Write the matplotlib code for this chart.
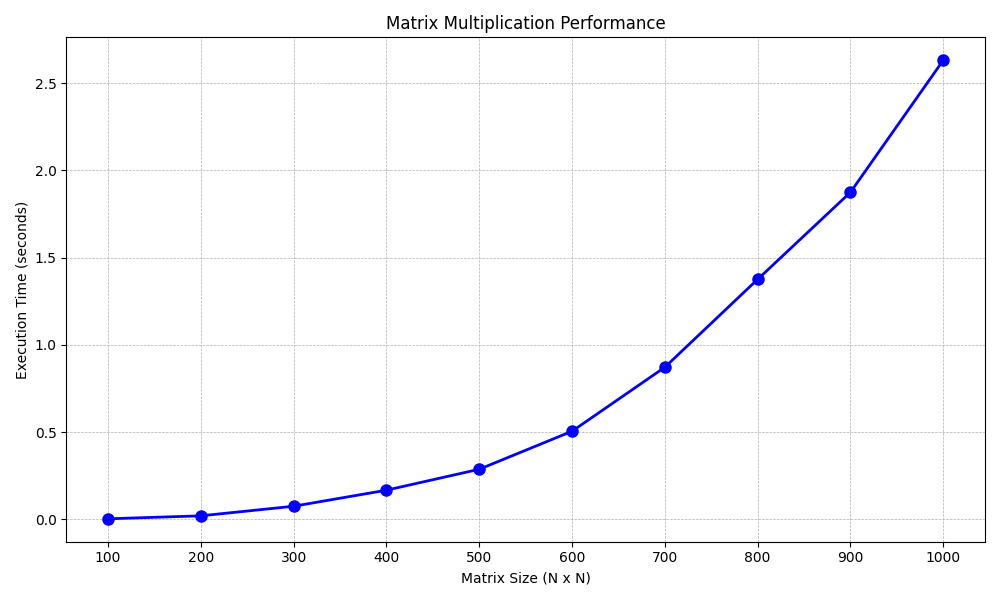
import matplotlib
matplotlib.use("Agg")
import matplotlib.pyplot as plt

# matrix sizes and timings
sizes = [100, 200, 300, 400, 500, 600, 700, 800, 900, 1000]
times = [0.003, 0.02, 0.075, 0.167, 0.287, 0.505, 0.872, 1.376, 1.875, 2.632]

fig, ax = plt.subplots(figsize=(10, 6), dpi=100)
ax.plot(sizes, times, marker='o', color='blue', linewidth=2, markersize=8)
ax.set_xticks(sizes)
ax.set_title('Matrix Multiplication Performance')
ax.set_xlabel('Matrix Size (N x N)')
ax.set_ylabel('Execution Time (seconds)')
ax.grid(True, linestyle='--', linewidth=0.5)
fig.tight_layout()
fig.savefig('out.png')
